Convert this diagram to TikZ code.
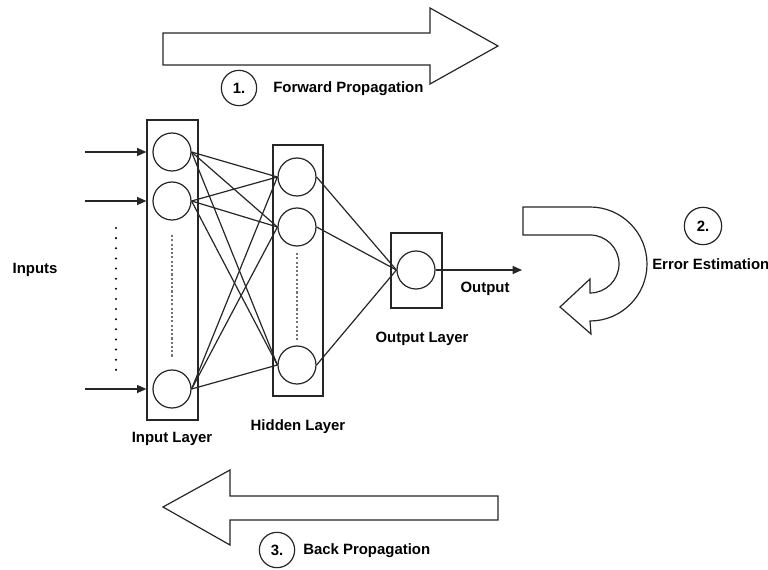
\documentclass[tikz,border=0pt]{standalone}
\usepackage{fontspec}
\setmainfont{Liberation Sans}
\usetikzlibrary{arrows.meta}
\begin{document}
\begin{tikzpicture}[x=0.75pt,y=-0.75pt,
  ln/.style={draw=black!85,line width=0.9pt},
  neuron/.style={ln,circle,minimum size=28.5pt,inner sep=0pt},
  layerbox/.style={ln,rectangle,inner sep=0pt},
  lbl/.style={font=\fontsize{11.2}{13}\selectfont\bfseries,inner sep=0pt},
  numc/.style={ln,circle,minimum size=26.5pt,inner sep=0pt,font=\fontsize{11.2}{13}\selectfont\bfseries},
  tip/.style={-{Triangle[length=7pt,width=6pt]}},
  dashv/.style={draw=black!55,line width=1pt,dash pattern=on 1.6pt off 1.6pt},
  bigarrow/.style={ln,fill=white,line join=miter}]
\useasboundingbox (0,0) rectangle (768,570);
\fill[white] (0,0) rectangle (768,570);

% forward arrow
\draw[bigarrow] (163,33) -- (430,33) -- (430,8) -- (498,46) -- (430,84) -- (430,65) -- (163,65) -- cycle;
\node[numc] (c1) at (239,88) {1.};
\node[lbl,anchor=west] (fp) at (273,88.5) {Forward Propagation};

% back arrow
\draw[bigarrow] (498,496) -- (230,496) -- (230,470) -- (163,507) -- (230,545) -- (230,520) -- (498,520) -- cycle;
\node[numc] (c3) at (277,550) {3.};
\node[lbl,anchor=west] (bp) at (303,550.5) {Back Propagation};

% error estimation U-turn arrow
\draw[bigarrow] (523,207) -- (590,207) arc[start angle=-90,end angle=90,radius=57]
  -- (591,334) -- (560,307) -- (590,279) -- (590,293)
  arc[start angle=90,end angle=-90,radius=29] -- (523,235) -- cycle;
\node[numc,minimum size=28pt] (c2) at (703,226) {2.};
\node[lbl,anchor=west] (ee) at (652,264.5) {Error Estimation};

% layer boxes
\node[layerbox,minimum width=38.25pt,minimum height=225pt] (ib) at (172.5,270) {};
\node[layerbox,minimum width=37.5pt,minimum height=188.25pt] (hb) at (298,270.5) {};
\node[layerbox,minimum width=38.25pt,minimum height=56.25pt] (ob) at (416.5,270.5) {};

% neurons
\node[neuron] (i1) at (172,152) {};
\node[neuron] (i2) at (172,201) {};
\node[neuron] (i3) at (172,389) {};
\node[neuron] (h1) at (297,177) {};
\node[neuron] (h2) at (297,227) {};
\node[neuron] (h3) at (297,365) {};
\node[neuron] (o1) at (416,270) {};

% dashed continuation marks
\coordinate (id1) at (172,235); \coordinate (id2) at (172,358);
\coordinate (hd1) at (297,253); \coordinate (hd2) at (297,340);
\draw[dashv] (id1) -- (id2);
\draw[dashv] (hd1) -- (hd2);

% connections
\foreach \i in {i1,i2,i3}
  \foreach \h in {h1,h2,h3}
    \draw[ln] (\i.east) -- (\h.west);
\foreach \h in {h1,h2,h3}
  \draw[ln] (\h.east) -- (o1.west);

% inputs
\coordinate (a1) at (85,152); \coordinate (a2) at (85,201); \coordinate (a3) at (85,389);
\draw[ln,tip] (a1) -- (ib.west |- a1);
\draw[ln,tip] (a2) -- (ib.west |- a2);
\draw[ln,tip] (a3) -- (ib.west |- a3);
\coordinate (dt1) at (116,228); \coordinate (dt2) at (116,370);
\draw[black,line width=1.7pt,line cap=round,dash pattern=on 0pt off 7.6pt] (dt1) -- (dt2);
\node[lbl] (inp) at (35,270) {Inputs};

% output
\coordinate (oe) at (522,270);
\draw[ln,tip] (o1.east) -- (oe);
\node[lbl] (outl) at (485,288.5) {Output};

% layer labels
\node[lbl] (il) at (172,438.5) {Input Layer};
\node[lbl] (hl) at (298,426.5) {Hidden Layer};
\node[lbl] (ol) at (422,338.5) {Output Layer};
\end{tikzpicture}
\end{document}
